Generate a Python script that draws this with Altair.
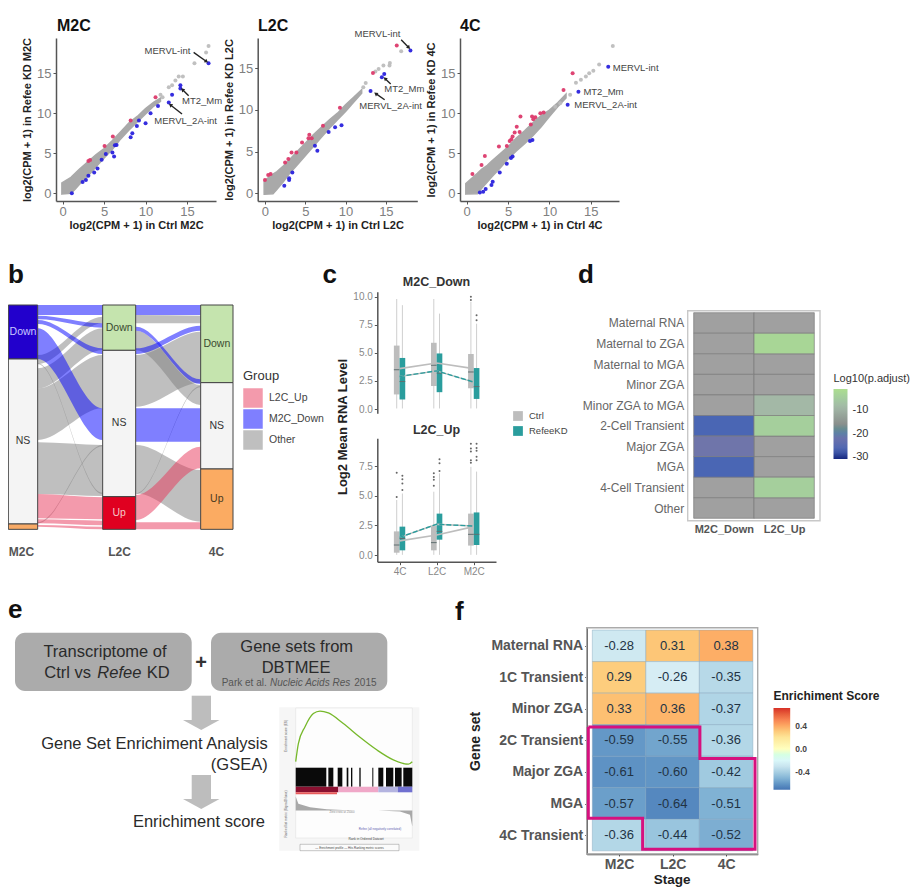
import json
import altair as alt
import pandas as pd

W, H = 907, 881
FONT = "Liberation Sans"

# ---------- a: scatter values ----------
m2c_band_x = [-0.1, 1, 1.5, 2, 3, 4, 5, 6, 7, 8, 9, 10, 11, 11.8]
m2c_band_lo = [-0.1, 0, 0.5, 1.1, 2.1, 3.3, 4.4, 5.5, 6.8, 7.9, 8.9, 9.9, 10.9, 11.5]
m2c_band_hi = [1.3, 2, 2.5, 3, 3.9, 4.8, 5.6, 6.6, 7.7, 8.8, 9.6, 10.6, 11.4, 11.9]
m2c_red = [(11.2, 12.0), (8.2, 9.1), (6.05, 7.1), (5.05, 5.9), (3.1, 4.05), (3.3, 4.15)]
m2c_blue = [(17.6, 16.25), (14.2, 13.5), (14.2, 13.1), (13.2, 12.3), (12.8, 11.35), (11.5, 10.9), (10.6, 10),
            (10.0, 8.75), (9.2, 9.1), (8.95, 8.4), (8.4, 7.5), (8.2, 7.0), (6.5, 6.05), (6.3, 6.0), (6.0, 5.1),
            (6.2, 4.6), (5.2, 4.9), (4.7, 4.2), (4.2, 3.1), (3.8, 2.6), (3.1, 2.2), (2.8, 1.65), (2.4, 1.4), (1.1, 0)]
m2c_grey = [(17.6, 18.4), (17.3, 17.6), (15.9, 16.25), (14.5, 14.6), (14, 14.6), (13.6, 14.1), (12.8, 13.25),
            (13.2, 13.5), (11.8, 12.3), (12.05, 12)]

l2c_band_x = [-0.1, 1, 1.5, 2.3, 3, 4, 5, 6, 7, 8, 9, 10, 11, 12]
l2c_band_lo = [-0.1, -0.05, 0.5, 1.4, 2.3, 3.4, 4.5, 5.6, 6.7, 7.8, 8.8, 9.8, 10.9, 12]
l2c_band_hi = [1.5, 2.3, 2.6, 3.3, 4, 5, 6, 7, 7.9, 8.8, 9.6, 10.6, 11.5, 12.4]
l2c_red = [(16.35, 17.7), (13.4, 14.4), (9.3, 10.25), (7.2, 8.1), (0, 1.6), (0.4, 2.2), (0.7, 2.3), (2.5, 3.7),
           (2.9, 4.1), (3.3, 4.9), (3.9, 4.9), (4.6, 6.1), (5.4, 6.6), (5.5, 7), (5.8, 6.6)]
l2c_blue = [(18.05, 17.1), (14.8, 14.3), (14.5, 13.9), (13.1, 12.25), (9.5, 8.15), (8.7, 7.9), (7.9, 7.35),
            (2.4, 0.9), (3, 1.6), (3, 1.8), (3.4, 2.5), (6.2, 5.7), (6.5, 5.1)]
l2c_grey = [(16.9, 17), (15.5, 15.6), (15.45, 15.3), (14.7, 15.3), (14.1, 14.9), (13.7, 14.6), (12.5, 13.2),
            (12.2, 12.7)]

c4_band_x = [-0.1, 1.3, 1.8, 2.5, 3, 4, 5, 6, 7, 8, 9, 10, 11, 12]
c4_band_lo = [-0.1, -0.05, 0.6, 1.4, 2, 3.1, 4.3, 5.3, 6.2, 7.2, 8.3, 9.6, 10.8, 11.9]
c4_band_hi = [1.2, 2.5, 3, 3.5, 4, 4.9, 5.8, 6.9, 7.8, 8.8, 9.7, 10.4, 11.3, 12.4]
c4_red = [(12.8, 15), (11.7, 12.9), (6.5, 9.6), (7.9, 9.6), (8.3, 9.5), (8.05, 9.25), (8.9, 10), (9.3, 10.1),
          (7.75, 8.6), (6.05, 8.3), (6.4, 7.65), (5.8, 7.6), (5.55, 7.1), (5.4, 6.75), (5.2, 6.55), (4.85, 5.9),
          (3.9, 5.85), (2.2, 4.65), (1.8, 3.55), (0.7, 2.4)]
c4_blue = [(17.1, 15.8), (13.5, 12.7), (12.2, 11.05), (7.95, 6.65), (7.65, 6.55), (5.55, 4.6), (5.35, 4.4),
           (4.85, 3.7), (4, 2.6), (3.15, 1.45), (3, 1.05), (2.3, 0.55), (2, 0.2), (1.6, 0.1)]
c4_grey = [(17.65, 18.4), (16, 16.1), (15.3, 15.3), (14.8, 15), (14.4, 14.6), (13.8, 14.2), (13.2, 13.8),
           (12.5, 12.3), (11.3, 11.25), (10.7, 10.8)]

# name, x value, y value, align
m2c_notes = [("MERVL-int", 15.4, 17.8, "right"), ("MT2_Mm", 14.4, 11.55, "left"), ("MERVL_2A-int", 11.05, 9.05, "left")]
l2c_notes = [("MERVL-int", 16.8, 19.1, "right"), ("MT2_Mm", 14.8, 12.5, "left"), ("MERVL_2A-int", 11.7, 10.5, "left")]
c4_notes = [("MERVL-int", 17.65, 15.7, "left"), ("MT2_Mm", 14.1, 12.65, "left"), ("MERVL_2A-int", 13, 11.05, "left")]
# x from, y from, x to, y to, head angle
m2c_arrows = [(15.8, 17.6, 17.3, 16.5, 125), (15.2, 12.2, 14.5, 12.9, 313), (14.4, 9.9, 13.05, 11, 309)]
l2c_arrows = [(16.9, 18.4, 17.8, 17.5, 136), (15.6, 13.1, 14.95, 13.7, 313), (14.85, 11.2, 13.8, 11.9, 306)]

# ---------- b: alluvial ----------
sankey_cols = [(25, 113), (308, 407), (602, 699)]
sankey_stack_col = [0, 0, 0, 1, 1, 1, 2, 2, 2]
sankey_stack_top = [135, 297, 792, 135, 271, 710, 135, 368, 627]
sankey_stack_bot = [297, 792, 808, 271, 710, 808, 368, 627, 808]
sankey_stack_lab = ["Down", "NS", "", "Down", "NS", "Up", "Down", "NS", "Up"]
sankey_stack_fill = ["#2200cc", "#f4f4f4", "#f8aa66", "#c5e4ae", "#f4f4f4", "#e00020", "#c5e4ae", "#f4f4f4", "#fbab62"]
sankey_lab_col = ["#c8c8ff", "#333333", "#333333", "#3a4a30", "#333333", "#f4c8c8", "#3a4a30", "#333333", "#4a3a20"]
# span, group, left top, left bottom, right top, right bottom
ribbons = [
    (0, "Other", 285, 312, 170, 190), (0, "Other", 325, 385, 205, 270), (0, "Other", 385, 540, 285, 445),
    (0, "Other", 547, 702, 555, 708), (0, "Other", 786, 790, 555, 559), (0, "Other", 310, 313, 698, 702),
    (0, "M2C_Down", 135, 165, 135, 165), (0, "M2C_Down", 167, 178, 190, 203), (0, "M2C_Down", 180, 192, 265, 282),
    (0, "M2C_Down", 205, 297, 445, 540),
    (0, "L2C_Up", 702, 775, 712, 778), (0, "L2C_Up", 778, 790, 782, 796), (0, "L2C_Up", 795, 800, 800, 808),
    (1, "Other", 165, 190, 167, 190), (1, "Other", 212, 271, 375, 435), (1, "Other", 285, 440, 215, 368),
    (1, "Other", 555, 700, 630, 785), (1, "Other", 700, 703, 378, 382),
    (1, "M2C_Down", 135, 165, 135, 165), (1, "M2C_Down", 200, 212, 358, 372), (1, "M2C_Down", 265, 282, 197, 212),
    (1, "M2C_Down", 445, 545, 445, 545),
    (1, "L2C_Up", 705, 780, 560, 625), (1, "L2C_Up", 787, 808, 787, 808),
]
sankey_groups = ["L2C_Up", "M2C_Down", "Other"]
sankey_colors = ["#e8365a", "#0000ff", "#808080"]

# ---------- c: box plots ----------
box_group = ["Ctrl", "RefeeKD", "Ctrl", "RefeeKD", "Ctrl", "RefeeKD"]
box_cat = [0, 0, 1, 1, 2, 2]
box_side = [-1, 1, -1, 1, -1, 1]
top_q1 = [1.3, 0.85, 2.05, 1.5, 1.85, 0.9]
top_med = [3.5, 2.45, 3.9, 3.2, 3.3, 2.0]
top_q3 = [5.65, 4.55, 5.9, 4.95, 4.9, 3.65]
top_lo = [0.05, 0.05, 0.05, 0.05, 0.05, 0.05]
top_hi = [9.8, 9.25, 9.8, 8.5, 9.55, 7.6]
top_out = [(4, 10), (4, 9.7), (5, 8.35), (5, 7.9)]
top_mean_ctrl = [3.6, 4.1, 3.6]
top_mean_kd = [2.9, 3.4, 2.4]
bot_q1 = [0.2, 0.4, 0.4, 1.3, 0.8, 0.85]
bot_med = [0.85, 1.4, 1.05, 2.0, 1.75, 1.75]
bot_q3 = [2.0, 2.4, 2.45, 3.5, 3.5, 3.6]
bot_lo = [0.02, 0.02, 0.02, 0.02, 0.02, 0.02]
bot_hi = [4.65, 5.2, 5.35, 6.9, 7.45, 7.05]
bot_out = [(0, 4.9), (0, 6.95), (1, 5.5), (1, 6.05), (1, 6.4), (1, 6.7), (2, 5.85), (2, 6.35), (2, 6.6), (2, 6.9),
           (3, 7.1), (3, 7.75), (3, 8.1), (4, 7.8), (4, 8.0), (4, 8.75), (4, 9), (4, 9.4),
           (5, 8), (5, 8.3), (5, 8.8), (5, 9.05), (5, 9.4)]
bot_mean_ctrl = [1.2, 1.7, 2.4]
bot_mean_kd = [1.5, 2.6, 2.45]
stage_names_c = ["4C", "L2C", "M2C"]

# ---------- d: heatmap ----------
d_rows = ["Maternal RNA", "Maternal to ZGA", "Maternal to MGA", "Minor ZGA", "Minor ZGA to MGA", "2-Cell Transient",
          "Major ZGA", "MGA", "4-Cell Transient", "Other"]
d_cols = ["M2C_Down", "L2C_Up"]
d_m2c = [None, None, None, None, None, -27, -21, -27, None, None]
d_l2c = [None, -3, None, None, -9, -4.5, None, None, -4.5, None]

# ---------- e: GSEA inset ----------
es_rank = [0, 1280, 4480, 8480, 11680, 15680, 22880, 30880, 38880, 46880, 54080, 56000]
es_val = [0.0, 0.29, 0.56, 0.77, 0.81, 0.78, 0.61, 0.39, 0.19, 0.03, -0.04, 0.0]
hit_start = [0, 15680, 20160, 24480, 26560, 30560, 36800, 39680, 43360, 47680, 51680]
hit_end = [14700, 18080, 22400, 25280, 27200, 31200, 37280, 42080, 46880, 50880, 56000]
heat_start = [0, 20500, 39680, 49000]
heat_end = [20500, 39680, 49000, 56000]
heat_fill = ["#8a1030", "#f0a8c8", "#b4b4e0", "#7070d0"]
metric_rank = [0, 1280, 6880, 14880, 27680, 39680, 50080, 54880, 56000]
metric_val = [3.6, 1.75, 0.85, 0.35, 0.0, 0.0, -0.25, -1.1, -4.1]
rank_ticks = [0, 10000, 20000, 30000, 40000, 50000]

# ---------- f: heatmap ----------
f_rows = ["Maternal RNA", "1C Transient ", "Minor ZGA", "2C Transient", "Major ZGA", "MGA", "4C Transient"]
f_cols = ["M2C", "L2C", "4C"]
f_m2c = [-0.28, 0.29, 0.33, -0.59, -0.61, -0.57, -0.36]
f_l2c = [0.31, -0.26, 0.36, -0.55, -0.60, -0.64, -0.44]
f_4c = [0.38, -0.35, -0.37, -0.36, -0.42, -0.51, -0.52]
frame_x = [-0.075, 2.01, 2.01, 3.04, 3.04, 0.94, 0.94, -0.075, -0.075]
frame_y = [3.07, 3.07, 4.07, 4.07, 6.95, 6.95, 5.97, 5.97, 3.07]


# ---------- helpers ----------
def rng(a, b):
    return [a - 8, b - 8]


def xe(f, dom, r, axis=None):
    return alt.X(f, type="quantitative", scale=alt.Scale(domain=dom, range=rng(*r), nice=False, zero=False), axis=axis)


def ye(f, dom, r, axis=None):
    return alt.Y(f, type="quantitative", scale=alt.Scale(domain=dom, range=rng(*r), nice=False, zero=False), axis=axis)


PXD, PYD = [8, 8 + W], [8, 8 + H]


def label(texts, xs, ys, size=10, weight="normal", color="#333333", align="left", baseline="middle", angle=0,
          style="normal"):
    df = pd.DataFrame({"t": texts, "x": xs, "y": ys})
    return alt.Chart(df).mark_text(fontSize=size, fontWeight=weight, color=color, align=align, baseline=baseline,
                                   angle=angle, fontStyle=style, font=FONT).encode(
        x=xe("x", PXD, PXD), y=ye("y", PYD, PYD), text=alt.Text("t", type="nominal"))


def box(x0, x1, y0, y1, fill="transparent", stroke="transparent", sw=1, radius=0, opacity=1):
    df = pd.DataFrame({"a": x0, "b": x1, "c": y0, "d": y1})
    return alt.Chart(df).mark_rect(fill=fill, stroke=stroke, strokeWidth=sw, cornerRadius=radius, opacity=opacity).encode(
        x=xe("a", PXD, PXD), x2=alt.X2("b"), y=ye("c", PYD, PYD), y2=alt.Y2("d"))


def left_axis(px, values, title=None, **kw):
    opts = dict(orient="left", offset=-(px - 8), values=values, title=title, grid=False, domainColor="#555555",
                domainWidth=1.5, tickColor="#555555", tickSize=3, labelColor="#808080", labelFont=FONT,
                titleFont=FONT)
    opts.update(kw)
    return alt.Axis(**opts)


def bottom_axis(py, values, title=None, **kw):
    opts = dict(orient="bottom", offset=-(H - (py - 8)), values=values, title=title, grid=False,
                domainColor="#555555", domainWidth=1.5, tickColor="#555555", tickSize=3, labelColor="#808080",
                labelFont=FONT, titleFont=FONT)
    opts.update(kw)
    return alt.Axis(**opts)


layers = []


# ---------- a ----------
def scatter(stage, bx, blo, bhi, red, blue, grey, notes, arrows, xdom, xr, ydom, yr, ylabx):
    xax = bottom_axis(yr[0], [0, 5, 10, 15], f"log2(CPM + 1) in Ctrl {stage}", labelFontSize=13, titleFontSize=11,
                      titleFontWeight="bold", titleColor="#222222", titlePadding=1, labelPadding=1)
    yax = left_axis(xr[0], [0, 5, 10, 15], f"log2(CPM + 1) in Refee KD {stage}", labelFontSize=13, titleFontSize=11,
                    titleFontWeight="bold", titleColor="#222222", titlePadding=ylabx, labelPadding=2)
    band = pd.DataFrame({"x": bx, "lo": blo, "hi": bhi})
    layers.append(alt.Chart(band).mark_area(color="#a9a9a9", stroke="#a9a9a9", strokeWidth=1.5).encode(
        x=xe("x", xdom, xr, xax), y=ye("lo", ydom, yr, yax), y2=alt.Y2("hi")))
    for pts, col in ((grey, "#bdbdbd"), (red, "#dc3a6c"), (blue, "#2a22dd")):
        df = pd.DataFrame(pts, columns=["x", "y"])
        layers.append(alt.Chart(df).mark_circle(size=16, color=col, opacity=0.95).encode(
            x=xe("x", xdom, xr), y=ye("y", ydom, yr)))
    if arrows:
        df = pd.DataFrame(arrows, columns=["x", "y", "x2", "y2", "a"])
        layers.append(alt.Chart(df).mark_rule(color="#222222", strokeWidth=1.4).encode(
            x=xe("x", xdom, xr), x2=alt.X2("x2"), y=ye("y", ydom, yr), y2=alt.Y2("y2")))
        layers.append(alt.Chart(df).mark_point(shape="triangle", filled=True, size=18, color="#222222", opacity=1).encode(
            x=xe("x2", xdom, xr), y=ye("y2", ydom, yr), angle=alt.Angle("a", type="quantitative", scale=None)))
    for align in ("left", "right"):
        sel = [n for n in notes if n[3] == align]
        if sel:
            df = pd.DataFrame(sel, columns=["t", "x", "y", "al"])
            layers.append(alt.Chart(df).mark_text(fontSize=9.5, color="#444444", align=align, baseline="middle",
                                                  font=FONT).encode(
                x=xe("x", xdom, xr), y=ye("y", ydom, yr), text=alt.Text("t", type="nominal")))


scatter("M2C", m2c_band_x, m2c_band_lo, m2c_band_hi, m2c_red, m2c_blue, m2c_grey, m2c_notes, m2c_arrows,
        [-0.81, 18.5], (56, 216), [-0.96, 19.4], (201, 38), 4)
scatter("L2C", l2c_band_x, l2c_band_lo, l2c_band_hi, l2c_red, l2c_blue, l2c_grey, l2c_notes, l2c_arrows,
        [-0.9, 18.9], (257.7, 417.3), [-0.92, 18.6], (201, 38), 4)
scatter("4C", c4_band_x, c4_band_lo, c4_band_hi, c4_red, c4_blue, c4_grey, c4_notes, [],
        [-0.8, 18.4], (460, 619), [-0.96, 19.4], (201, 38), 4)
layers.append(label(["M2C", "L2C", "4C"], [57, 258, 460], [30.5, 30.5, 30.5], size=16, weight="bold", color="#111111",
                    baseline="alphabetic"))

# ---------- b ----------
SX, SXR = [15, 699], (5, 233)
SY, SYR = [135, 808], (305, 529.33)
rows = []
for i, (span, grp, lt, lb, rt, rb) in enumerate(ribbons):
    x0 = sankey_cols[span][1]
    x1 = sankey_cols[span + 1][0]
    for x, t, b in ((x0, lt, lb), (x0 + 1, lt, lb), (x1 - 1, rt, rb), (x1, rt, rb)):
        rows.append({"id": i, "Group": grp, "x": x, "t": t, "b": b})
layers.append(alt.Chart(pd.DataFrame(rows)).mark_area(interpolate="monotone", opacity=0.5).encode(
    x=xe("x", SX, SXR), y=ye("t", SY, SYR), y2=alt.Y2("b"), detail=alt.Detail("id", type="nominal"),
    color=alt.Color("Group", type="nominal", scale=alt.Scale(domain=sankey_groups, range=sankey_colors),
                    legend=alt.Legend(orient="none", legendX=235, legendY=362, title="Group", titleFont=FONT,
                                      titleFontSize=13, titleFontWeight="normal", titleColor="#333333",
                                      labelFont=FONT, labelFontSize=10.5, labelColor="#444444", symbolType="square",
                                      symbolSize=380, symbolStrokeWidth=0, rowPadding=1, labelOffset=6))))
stack = pd.DataFrame({"x0": [sankey_cols[c][0] for c in sankey_stack_col], "x1": [sankey_cols[c][1] for c in sankey_stack_col],
                      "t": sankey_stack_top, "b": sankey_stack_bot, "fill": sankey_stack_fill, "lab": sankey_stack_lab,
                      "lc": sankey_lab_col,
                      "cx": [(sankey_cols[c][0] + sankey_cols[c][1]) / 2 for c in sankey_stack_col]})
stack["cy"] = [(t + b) / 2 for t, b in zip(sankey_stack_top, sankey_stack_bot)]
layers.append(alt.Chart(stack).mark_rect(stroke="#444444", strokeWidth=1).encode(
    x=xe("x0", SX, SXR), x2=alt.X2("x1"), y=ye("t", SY, SYR), y2=alt.Y2("b"),
    fill=alt.Fill("fill", type="nominal", scale=None)))
layers.append(alt.Chart(stack[stack.lab != ""]).mark_text(fontSize=10.5, font=FONT).encode(
    x=xe("cx", SX, SXR), y=ye("cy", SY, SYR), text=alt.Text("lab", type="nominal"),
    color=alt.Color("lc", type="nominal", scale=None)))
layers.append(label(["M2C", "L2C", "4C"], [21.5, 119.5, 216.5], [551.5, 551.5, 551.5], size=12, weight="bold",
                    color="#555555", align="center"))

# ---------- c ----------
CX, CXR = [-0.6, 2.6], (377.3, 496)
HALF = 0.0765
BOX_COL = alt.Scale(domain=["Ctrl", "RefeeKD"], range=["#bdbdbd", "#2a9d9d"])


def boxes(q1, med, q3, lo, hi, outliers, mctrl, mkd, ydom, yr, yvals, show_x, show_legend):
    centers = [c + s * HALF for c, s in zip(box_cat, box_side)]
    df = pd.DataFrame({"g": box_group, "c": centers, "l": [c - HALF for c in centers], "r": [c + HALF for c in centers],
                       "q1": q1, "med": med, "q3": q3, "lo": lo, "hi": hi})
    yax = left_axis(377.3, yvals, labelFontSize=10, format=".1f", labelPadding=2, labelColor="#888888")
    xax = None
    if show_x:
        xax = bottom_axis(yr[0], [0, 1, 2], labelFontSize=10, labelPadding=2, labelColor="#888888",
                          labelExpr=f"{json.dumps(stage_names_c)}[datum.value]")
    layers.append(alt.Chart(df).mark_rule(color="#cfcfcf", strokeWidth=1).encode(
        x=xe("c", CX, CXR, xax), y=ye("lo", ydom, yr, yax), y2=alt.Y2("hi")))
    leg = None
    if show_legend:
        leg = alt.Legend(orient="none", legendX=505, legendY=403, title=None, labelFont=FONT, labelFontSize=9.5,
                         labelColor="#444444", symbolType="square", symbolSize=95, symbolStrokeWidth=0, rowPadding=5,
                         labelOffset=6)
    layers.append(alt.Chart(df).mark_rect().encode(
        x=xe("l", CX, CXR), x2=alt.X2("r"), y=ye("q1", ydom, yr), y2=alt.Y2("q3"),
        color=alt.Color("g", type="nominal", scale=BOX_COL, legend=leg)))
    layers.append(alt.Chart(df).mark_rule(color="#5f6f70", strokeWidth=1).encode(
        x=xe("l", CX, CXR), x2=alt.X2("r"), y=ye("med", ydom, yr)))
    out = pd.DataFrame({"c": [centers[i] for i, _ in outliers], "v": [v for _, v in outliers]})
    layers.append(alt.Chart(out).mark_circle(size=4, color="#666666", opacity=1).encode(
        x=xe("c", CX, CXR), y=ye("v", ydom, yr)))
    means = pd.DataFrame({"c": [0, 1, 2], "ctrl": mctrl, "kd": mkd})
    layers.append(alt.Chart(means).mark_line(color="#bdbdbd", strokeWidth=1.6).encode(
        x=xe("c", CX, CXR), y=ye("ctrl", ydom, yr)))
    layers.append(alt.Chart(means).mark_line(color="#bdbdbd", strokeWidth=1.4).encode(
        x=xe("c", CX, CXR), y=ye("kd", ydom, yr)))
    layers.append(alt.Chart(means).mark_line(color="#2a9d9d", strokeWidth=1.4, strokeDash=[5, 2]).encode(
        x=xe("c", CX, CXR), y=ye("kd", ydom, yr)))


boxes(top_q1, top_med, top_q3, top_lo, top_hi, top_out, top_mean_ctrl, top_mean_kd, [-0.38, 10.45], (413.3, 291.7),
      [0, 2.5, 5, 7.5, 10], False, True)
boxes(bot_q1, bot_med, bot_q3, bot_lo, bot_hi, bot_out, bot_mean_ctrl, bot_mean_kd, [-0.56, 9.86], (561.7, 438.3),
      [0, 2.5, 5, 7.5], True, False)
layers.append(label(["M2C_Down", "L2C_Up"], [436.5, 436.5], [281.5, 429.5], size=12.5, weight="bold", color="#333333",
                    align="center"))
layers.append(label(["Log2 Mean RNA Level"], [343], [427], size=13, weight="bold", color="#222222", align="center",
                    angle=270))

# ---------- d ----------
DX, DXR = [0, 2], (693.7, 814.3)
DY, DYR = [0, 10], (312.7, 518.3)
dvals = []
for r in range(10):
    for c, col in enumerate((d_m2c, d_l2c)):
        dvals.append({"x": c, "x2": c + 1, "y": r, "y2": r + 1, "v": col[r]})
dvals = pd.DataFrame(dvals)
d_yax = left_axis(687.7, [i + 0.5 for i in range(10)], domain=False, ticks=False, labelFontSize=12, labelPadding=4,
                  labelColor="#666666", labelExpr=f"{json.dumps(d_rows)}[floor(datum.value)]")
d_xax = bottom_axis(520.7, [0.5, 1.5], domain=False, ticks=False, labelFontSize=11, labelFontWeight="bold",
                    labelPadding=3, labelColor="#555555", labelExpr=f"{json.dumps(d_cols)}[floor(datum.value)]")
layers.append(box([687.7], [820], [310.7], [520.7], stroke="#c8c8c8", sw=1.4))
layers.append(alt.Chart(dvals[dvals.v.isna()][["x", "x2", "y", "y2"]]).mark_rect(fill="#a0a0a0", stroke="#7d7d7d", strokeWidth=0.7).encode(
    x=xe("x", DX, DXR, d_xax), x2=alt.X2("x2"), y=ye("y", DY, DYR, d_yax), y2=alt.Y2("y2")))
layers.append(alt.Chart(dvals[dvals.v.notna()]).mark_rect(stroke="#7d7d7d", strokeWidth=0.7).encode(
    x=xe("x", DX, DXR), x2=alt.X2("x2"), y=ye("y", DY, DYR), y2=alt.Y2("y2"),
    color=alt.Color("v", type="quantitative",
                    scale=alt.Scale(domain=[-30.7, -27, -21, -16, -9, -1.3],
                                    range=["#14267f", "#4a66b4", "#6f75aa", "#8a8f8c", "#a3b8a6", "#aede8f"]),
                    legend=alt.Legend(orient="none", legendX=825.5, legendY=365, title="Log10(p.adjust)",
                                      titleFont=FONT, titleFontSize=11, titleFontWeight="normal", titleColor="#333333",
                                      gradientLength=70, gradientThickness=14, values=[-30, -20, -10],
                                      labelFont=FONT, labelFontSize=11, labelColor="#333333", labelOffset=5,
                                      labelExpr="'-' + abs(datum.value)"))))

# ---------- e ----------
layers.append(box([15, 211], [191.7, 387.3], [632.7, 632.7], [691, 691], fill="#ababab", radius=10))
layers.append(label(["Transcriptome of"], [105], [652], size=16.5, color="#2a2a2a", align="center"))
layers.append(label(["Ctrl vs", "KD"], [44.3, 146.7], [672.7, 672.7], size=16.5, color="#2a2a2a"))
layers.append(label(["Refee"], [97.3], [672.7], size=16.5, color="#2a2a2a", style="italic"))
layers.append(label(["Gene sets from", "DBTMEE"], [296.7, 296], [647, 667.7], size=16.5, color="#2a2a2a", align="center"))
layers.append(label(["Park et al.", "2015"], [221.7, 354.3], [682.7, 682.7], size=10, color="#555555"))
layers.append(label(["Nucleic Acids Res"], [270], [682.7], size=10, color="#555555", style="italic"))
layers.append(label(["+"], [201], [662.5], size=20, weight="bold", color="#333333", align="center"))
layers.append(box([191.7, 191.7], [211, 211], [695.7, 775], [720, 799], fill="#bdbdbd"))
for y0, y1, xl, xr in ((720, 730, 183, 219.5), (799, 809, 183, 219.5)):
    head = pd.DataFrame({"x": [xl, (xl + xr) / 2, xr], "t": [y0, y0, y0], "b": [y0, y1, y0]})
    layers.append(alt.Chart(head).mark_area(color="#bdbdbd").encode(
        x=xe("x", PXD, PXD), y=ye("t", PYD, PYD), y2=alt.Y2("b")))
layers.append(label(["Gene Set Enrichiment Analysis", "(GSEA)"], [267.7, 267.7], [744, 765], size=16.5, color="#2a2a2a",
                    align="right"))
layers.append(label(["Enrichiment score"], [265], [822.3], size=16.5, color="#2a2a2a", align="right"))

# GSEA inset
RX, RXR = [0, 56000], (295.7, 412.3)
layers.append(box([279.3], [419.3], [707.3], [850.7], fill="#f6f6f6"))
layers.append(box([295.7], [412.3], [708], [838], fill="#fdfdfd", stroke="#dddddd", sw=0.5))
tiny = dict(labelFontSize=3, tickSize=1, labelPadding=0.5, domainWidth=0.4, tickWidth=0.3, labelColor="#666666",
            domainColor="#888888", tickColor="#888888")
es_ax = left_axis(295.7, [0, 0.2, 0.4, 0.6, 0.8], **tiny)
layers.append(alt.Chart(pd.DataFrame({"r": es_rank, "v": es_val})).mark_line(
    color="#76b82a", strokeWidth=1.3, interpolate="monotone").encode(
    x=xe("r", RX, RXR), y=ye("v", [0, 0.8], (761.7, 711.7), es_ax)))
HY, HYR = [0, 1], (767.7, 786.7)
layers.append(alt.Chart(pd.DataFrame({"a": hit_start, "b": hit_end, "t": [0] * len(hit_start), "u": [1] * len(hit_start)})).mark_rect(
    color="#0a0a0a").encode(x=xe("a", RX, RXR), x2=alt.X2("b"), y=ye("t", HY, HYR), y2=alt.Y2("u")))
layers.append(alt.Chart(pd.DataFrame({"a": heat_start, "b": heat_end, "t": [0] * 4, "u": [1] * 4, "f": heat_fill})).mark_rect().encode(
    x=xe("a", RX, RXR), x2=alt.X2("b"), y=ye("t", HY, (786.7, 792.3)), y2=alt.Y2("u"),
    fill=alt.Fill("f", type="nominal", scale=None)))
layers.append(box([295.7], [337], [792.3], [794.3], fill="#e85a5a"))
m_ax = left_axis(295.7, [-4, -2, 0, 2, 4], **tiny)
rank_ax = bottom_axis(834, rank_ticks, **dict(tiny, format=","))
layers.append(alt.Chart(pd.DataFrame({"r": metric_rank, "v": metric_val, "z": [0] * len(metric_val)})).mark_area(
    color="#a8a8a8").encode(x=xe("r", RX, RXR, rank_ax), y=ye("v", [-4, 4], (826, 795), m_ax), y2=alt.Y2("z")))
layers.append(label(["Enrichment score (ES)"], [285.5], [736], size=3.2, color="#555555", align="center", angle=270))
layers.append(label(["Ranked list metric (Signal2Noise)"], [285.5], [814], size=3.2, color="#555555", align="center", angle=270))
layers.append(label(["Rank in Ordered Dataset"], [366], [839.3], size=3.2, color="#444444", align="center"))
layers.append(label(["Zero cross at 25000"], [342], [811.5], size=2.8, color="#888888", align="center"))
layers.append(label(["Refee (all negatively correlated)"], [380], [828.5], size=3, color="#6060b0", align="center"))
layers.append(box([300], [399], [844.3], [850.7], fill="#fbfbfb", stroke="#777777", sw=0.4))
layers.append(label(["— Enrichment profile   — Hits   Ranking metric scores"], [349.5], [847.5], size=3, color="#444444", align="center"))

# ---------- f ----------
FX, FXR = [-0.105, 3.09], (586.7, 757.7)
FY, FYR = [-0.075, 7.1], (627.7, 854)
fvals = []
for r in range(7):
    for c, col in enumerate((f_m2c, f_l2c, f_4c)):
        fvals.append({"x": c, "x2": c + 1, "y": r, "y2": r + 1, "v": col[r], "cx": c + 0.5, "cy": r + 0.5,
                      "t": f"{col[r]:.2f}"})
fvals = pd.DataFrame(fvals)
f_yax = left_axis(586.7, [i + 0.5 for i in range(7)], labelFontSize=14, labelFontWeight="bold", labelColor="#555555",
                  labelPadding=2, tickSize=2, domainColor="#444444", labelExpr=f"{json.dumps(f_rows)}[floor(datum.value)]",
                  title="Gene set", titleFontSize=14, titleFontWeight="bold", titleColor="#222222", titlePadding=8)
f_xax = bottom_axis(854, [0.5, 1.5, 2.5], labelFontSize=14, labelFontWeight="bold", labelColor="#555555", labelPadding=1,
                    tickSize=2, domainColor="#444444", labelExpr=f"{json.dumps(f_cols)}[floor(datum.value)]")
layers.append(box([586.7], [757.7], [627.7], [854], stroke="#aaaaaa", sw=1.4))
layers.append(alt.Chart(fvals).mark_rect(stroke="#7f9fb8", strokeWidth=0.4).encode(
    x=xe("x", FX, FXR, f_xax), x2=alt.X2("x2"), y=ye("y", FY, FYR, f_yax), y2=alt.Y2("y2"),
    color=alt.Color("v", type="quantitative",
                    scale=alt.Scale(domain=[-0.7, -0.467, -0.233, 0, 0.233, 0.467, 0.7],
                                    range=["#4575b4", "#91bfdb", "#e0f3f8", "#ffffbf", "#fee090", "#fc8d59", "#d73027"]),
                    legend=alt.Legend(orient="none", legendX=765.5, legendY=683, title="Enrichiment Score",
                                      titleFont=FONT, titleFontSize=12, titleFontWeight="bold", titleColor="#222222",
                                      gradientLength=81.7, gradientThickness=16.7, values=[-0.4, 0, 0.4],
                                      labelFont=FONT, labelFontSize=8.5, labelFontWeight="bold", labelColor="#444444",
                                      labelOffset=5,
                                      labelExpr="datum.value > 0 ? '0.4' : datum.value < 0 ? '-0.4' : '0.0'"))))
layers.append(alt.Chart(fvals).mark_text(fontSize=13, color="#223344", font=FONT).encode(
    x=xe("cx", FX, FXR), y=ye("cy", FY, FYR), text=alt.Text("t", type="nominal")))
layers.append(alt.Chart(pd.DataFrame({"x": frame_x, "y": frame_y, "o": list(range(len(frame_x)))})).mark_line(
    color="#d6117f", strokeWidth=3, strokeJoin="miter").encode(
    x=xe("x", FX, FXR), y=ye("y", FY, FYR), order=alt.Order("o", type="quantitative")))
layers.append(label(["Stage"], [672], [879.5], size=13.5, weight="bold", color="#222222", align="center"))

# ---------- panel letters ----------
layers.append(label(["b", "c", "d", "e", "f"], [8, 322.5, 578, 8, 455], [283, 283, 283, 618, 620], size=26, weight="bold",
                    color="#111111", baseline="alphabetic"))

chart = alt.layer(*layers).resolve_scale(
    x="independent", y="independent", color="independent", fill="independent", angle="independent"
).resolve_axis(x="independent", y="independent").resolve_legend(color="independent", fill="independent").properties(
    width=W, height=H, padding=0, autosize="none", background="white"
).configure_view(stroke=None)

chart.save("out.html", embed_options={"renderer": "svg", "actions": False})
